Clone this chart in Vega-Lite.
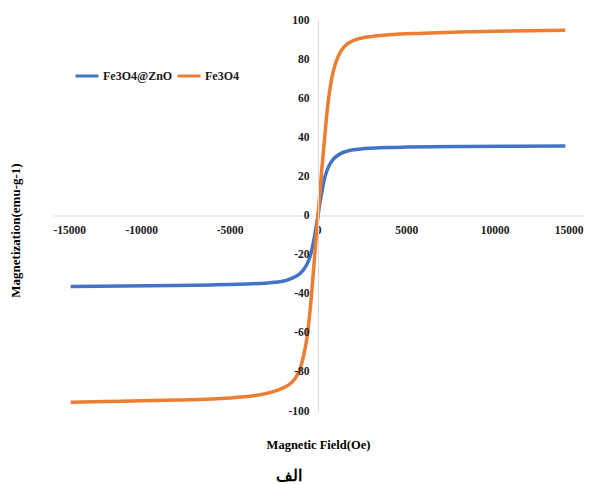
{
  "$schema": "https://vega.github.io/schema/vega-lite/v6.json",
  "width": 530,
  "height": 391,
  "autosize": {"type": "none"},
  "padding": {"left": 53, "top": 20, "right": 16, "bottom": 73},
  "background": "white",
  "title": {
    "text": "الف",
    "orient": "bottom",
    "anchor": "middle",
    "font": "Liberation Serif",
    "fontSize": 16,
    "fontWeight": "bold",
    "color": "#000000",
    "offset": 17,
    "dx": -29
  },
  "config": {
    "view": {"stroke": null},
    "font": "Liberation Serif"
  },
  "datasets": {
    "zno": [
      {"H": -14000, "M": -36.3, "s": "Fe3O4@ZnO"},
      {"H": -11000, "M": -36.1, "s": "Fe3O4@ZnO"},
      {"H": -8000, "M": -35.8, "s": "Fe3O4@ZnO"},
      {"H": -6000, "M": -35.5, "s": "Fe3O4@ZnO"},
      {"H": -5000, "M": -35.3, "s": "Fe3O4@ZnO"},
      {"H": -4000, "M": -35.0, "s": "Fe3O4@ZnO"},
      {"H": -3000, "M": -34.6, "s": "Fe3O4@ZnO"},
      {"H": -2500, "M": -34.2, "s": "Fe3O4@ZnO"},
      {"H": -2000, "M": -33.6, "s": "Fe3O4@ZnO"},
      {"H": -1600, "M": -32.5, "s": "Fe3O4@ZnO"},
      {"H": -1300, "M": -31.3, "s": "Fe3O4@ZnO"},
      {"H": -1000, "M": -29.5, "s": "Fe3O4@ZnO"},
      {"H": -800, "M": -27.5, "s": "Fe3O4@ZnO"},
      {"H": -600, "M": -24.5, "s": "Fe3O4@ZnO"},
      {"H": -400, "M": -19.5, "s": "Fe3O4@ZnO"},
      {"H": -300, "M": -15.5, "s": "Fe3O4@ZnO"},
      {"H": -200, "M": -11.0, "s": "Fe3O4@ZnO"},
      {"H": -100, "M": -5.5, "s": "Fe3O4@ZnO"},
      {"H": 0, "M": 0.0, "s": "Fe3O4@ZnO"},
      {"H": 100, "M": 6.0, "s": "Fe3O4@ZnO"},
      {"H": 200, "M": 11.0, "s": "Fe3O4@ZnO"},
      {"H": 300, "M": 16.0, "s": "Fe3O4@ZnO"},
      {"H": 400, "M": 20.0, "s": "Fe3O4@ZnO"},
      {"H": 600, "M": 25.0, "s": "Fe3O4@ZnO"},
      {"H": 800, "M": 28.0, "s": "Fe3O4@ZnO"},
      {"H": 1000, "M": 30.0, "s": "Fe3O4@ZnO"},
      {"H": 1300, "M": 31.8, "s": "Fe3O4@ZnO"},
      {"H": 1600, "M": 32.8, "s": "Fe3O4@ZnO"},
      {"H": 2000, "M": 33.6, "s": "Fe3O4@ZnO"},
      {"H": 2500, "M": 34.1, "s": "Fe3O4@ZnO"},
      {"H": 3000, "M": 34.4, "s": "Fe3O4@ZnO"},
      {"H": 4000, "M": 34.8, "s": "Fe3O4@ZnO"},
      {"H": 5000, "M": 35.0, "s": "Fe3O4@ZnO"},
      {"H": 8000, "M": 35.3, "s": "Fe3O4@ZnO"},
      {"H": 11000, "M": 35.4, "s": "Fe3O4@ZnO"},
      {"H": 14000, "M": 35.5, "s": "Fe3O4@ZnO"}
    ],
    "fe": [
      {"H": -14000, "M": -95.5, "s": "Fe3O4"},
      {"H": -12000, "M": -95.2, "s": "Fe3O4"},
      {"H": -10000, "M": -94.8, "s": "Fe3O4"},
      {"H": -8000, "M": -94.4, "s": "Fe3O4"},
      {"H": -6000, "M": -93.8, "s": "Fe3O4"},
      {"H": -5000, "M": -93.3, "s": "Fe3O4"},
      {"H": -4000, "M": -92.6, "s": "Fe3O4"},
      {"H": -3000, "M": -91.2, "s": "Fe3O4"},
      {"H": -2500, "M": -90.0, "s": "Fe3O4"},
      {"H": -2000, "M": -88.3, "s": "Fe3O4"},
      {"H": -1500, "M": -85.5, "s": "Fe3O4"},
      {"H": -1200, "M": -82.0, "s": "Fe3O4"},
      {"H": -1000, "M": -78.0, "s": "Fe3O4"},
      {"H": -800, "M": -71.0, "s": "Fe3O4"},
      {"H": -600, "M": -61.0, "s": "Fe3O4"},
      {"H": -500, "M": -53.0, "s": "Fe3O4"},
      {"H": -400, "M": -44.0, "s": "Fe3O4"},
      {"H": -300, "M": -33.0, "s": "Fe3O4"},
      {"H": -200, "M": -22.0, "s": "Fe3O4"},
      {"H": -100, "M": -11.0, "s": "Fe3O4"},
      {"H": 0, "M": 0.0, "s": "Fe3O4"},
      {"H": 100, "M": 11.0, "s": "Fe3O4"},
      {"H": 200, "M": 22.0, "s": "Fe3O4"},
      {"H": 300, "M": 32.0, "s": "Fe3O4"},
      {"H": 400, "M": 42.0, "s": "Fe3O4"},
      {"H": 500, "M": 52.0, "s": "Fe3O4"},
      {"H": 600, "M": 60.0, "s": "Fe3O4"},
      {"H": 800, "M": 71.0, "s": "Fe3O4"},
      {"H": 1000, "M": 78.0, "s": "Fe3O4"},
      {"H": 1200, "M": 82.5, "s": "Fe3O4"},
      {"H": 1500, "M": 86.5, "s": "Fe3O4"},
      {"H": 2000, "M": 89.5, "s": "Fe3O4"},
      {"H": 2500, "M": 90.8, "s": "Fe3O4"},
      {"H": 3000, "M": 91.5, "s": "Fe3O4"},
      {"H": 4000, "M": 92.4, "s": "Fe3O4"},
      {"H": 6000, "M": 93.2, "s": "Fe3O4"},
      {"H": 8000, "M": 93.8, "s": "Fe3O4"},
      {"H": 10000, "M": 94.2, "s": "Fe3O4"},
      {"H": 12000, "M": 94.5, "s": "Fe3O4"},
      {"H": 14000, "M": 94.7, "s": "Fe3O4"}
    ]
  },
  "encoding": {
    "x": {
      "field": "H",
      "type": "quantitative",
      "scale": {"domain": [-15000, 15000], "nice": false, "zero": false},
      "axis": {
        "orient": "bottom",
        "offset": -195.5,
        "values": [-15000, -10000, -5000, 0, 5000, 10000, 15000],
        "labelExpr": "'' + datum.value",
        "labelOverlap": false,
        "grid": false,
        "ticks": false,
        "domainColor": "#d9d9d9",
        "domainWidth": 1,
        "labelFont": "Liberation Serif",
        "labelFontWeight": "bold",
        "labelFontSize": 11.5,
        "labelColor": "#1a1a1a",
        "labelPadding": 9,
        "title": "Magnetic Field(Oe)",
        "titleFont": "Liberation Serif",
        "titleFontWeight": "bold",
        "titleFontSize": 12.5,
        "titleColor": "#000000",
        "titleX": 265,
        "titleY": 229,
        "titleBaseline": "middle",
        "titleAnchor": null
      }
    },
    "y": {
      "field": "M",
      "type": "quantitative",
      "scale": {"domain": [-100, 100], "nice": false},
      "axis": {
        "orient": "left",
        "offset": -265,
        "zindex": 1,
        "values": [-100, -80, -60, -40, -20, 0, 20, 40, 60, 80, 100],
        "labelExpr": "'' + datum.value",
        "labelOverlap": false,
        "labelBound": false,
        "grid": false,
        "ticks": false,
        "domainColor": "#d9d9d9",
        "domainWidth": 1,
        "labelFont": "Liberation Serif",
        "labelFontWeight": "bold",
        "labelFontSize": 11.5,
        "labelColor": "#1a1a1a",
        "labelPadding": 9,
        "title": "Magnetization(emu-g-1)",
        "titleFont": "Liberation Serif",
        "titleFontWeight": "bold",
        "titleFontSize": 13,
        "titleColor": "#000000",
        "titleX": -303,
        "titleY": 210,
        "titleAngle": -90,
        "titleBaseline": "middle",
        "titleAnchor": null
      }
    },
    "color": {
      "field": "s",
      "type": "nominal",
      "scale": {"domain": ["Fe3O4@ZnO", "Fe3O4"], "range": ["#4472C4", "#ED7D31"]},
      "legend": {
        "title": null,
        "orient": "none",
        "legendX": 21,
        "legendY": 43,
        "direction": "horizontal",
        "symbolType": "stroke",
        "symbolSize": 529,
        "symbolStrokeWidth": 3,
        "labelFont": "Liberation Serif",
        "labelFontWeight": "bold",
        "labelFontSize": 12,
        "labelColor": "#1a1a1a",
        "labelOffset": 3,
        "columnPadding": -2
      }
    }
  },
  "layer": [
    {
      "data": {"name": "zno"},
      "mark": {"type": "line", "strokeWidth": 3.5, "interpolate": "monotone"}
    },
    {
      "data": {"name": "fe"},
      "mark": {"type": "line", "strokeWidth": 3.5, "interpolate": "monotone"}
    }
  ]
}
